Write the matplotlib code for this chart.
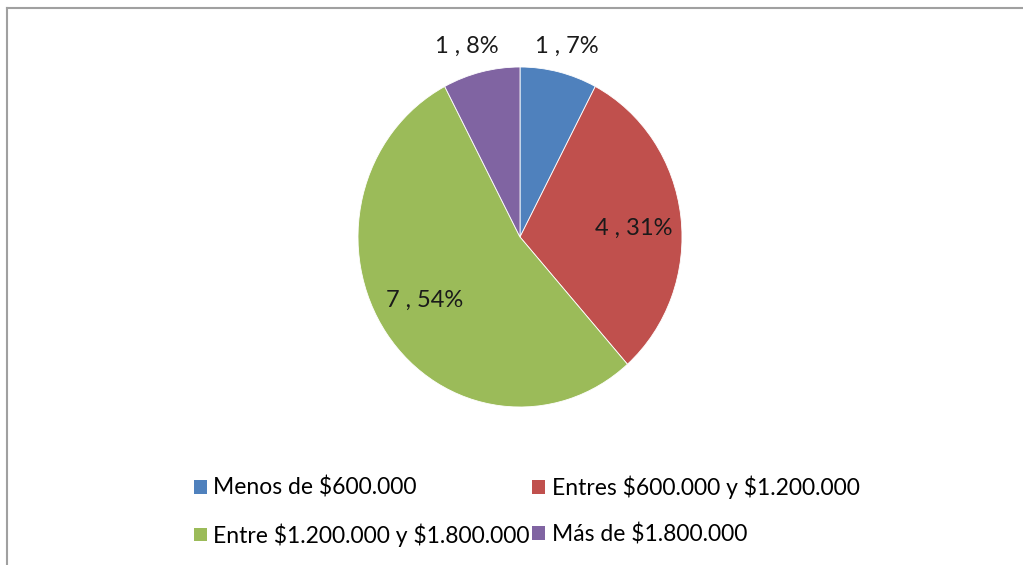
import matplotlib.pyplot as plt
from matplotlib.lines import Line2D
from matplotlib.patches import Patch

plt.rcParams['font.family'] = ['Lato', 'DejaVu Sans']
plt.rcParams['text.parse_math'] = False

# Data
categories = ['Menos de $600.000', 'Entres $600.000 y $1.200.000',
              'Entre $1.200.000 y $1.800.000', 'Más de $1.800.000']
counts = [1, 4, 7, 1]
pct_labels = ['7%', '31%', '54%', '8%']
colors = ['#4F81BD', '#C0504D', '#9BBB59', '#8064A2']

fig = plt.figure(figsize=(10.23, 5.65), dpi=100)

# pie drawn in an axes with free aspect (the original is slightly taller than wide)
ax = fig.add_axes([358 / 1023, 1 - 407 / 565, 324 / 1023, 340 / 565])
wedges, _ = ax.pie(counts, colors=colors, startangle=90, counterclock=False,
                   wedgeprops=dict(edgecolor='white', linewidth=0.6))
ax.set_xlim(-1, 1)
ax.set_ylim(-1, 1)
ax.set_aspect('auto')
ax.axis('off')

# data labels: small slices outside, big ones inside
label_pos = [(0.29, 1.12), (0.70, 0.05), (-0.59, -0.37), (-0.33, 1.12)]
for n, p, (lx, ly) in zip(counts, pct_labels, label_pos):
    ax.text(lx, ly, f'{n} , {p}', ha='center', va='center', fontsize=17,
            color='#1a1a1a', clip_on=False)

# legend, row-major order like the original
order = [0, 2, 1, 3]
handles = [Patch(facecolor=colors[i], edgecolor='none') for i in order]
labels = [categories[i] for i in order]
fig.legend(handles, labels, ncol=2, loc='center left',
           bbox_to_anchor=(194 / 1023, 1 - 511 / 565), frameon=False,
           fontsize=16.5, handlelength=0.55, handleheight=0.55, handletextpad=0.3,
           columnspacing=0.1, labelspacing=1.05, borderaxespad=0, borderpad=0)

# grey frame on top and left edge
fig.add_artist(Line2D([7 / 1023, 1], [1 - 8 / 565, 1 - 8 / 565],
                      transform=fig.transFigure, color='#a0a0a0', lw=1.5))
fig.add_artist(Line2D([7 / 1023, 7 / 1023], [0, 1 - 8 / 565],
                      transform=fig.transFigure, color='#a0a0a0', lw=1.5))

plt.savefig('out.png', dpi=100)
